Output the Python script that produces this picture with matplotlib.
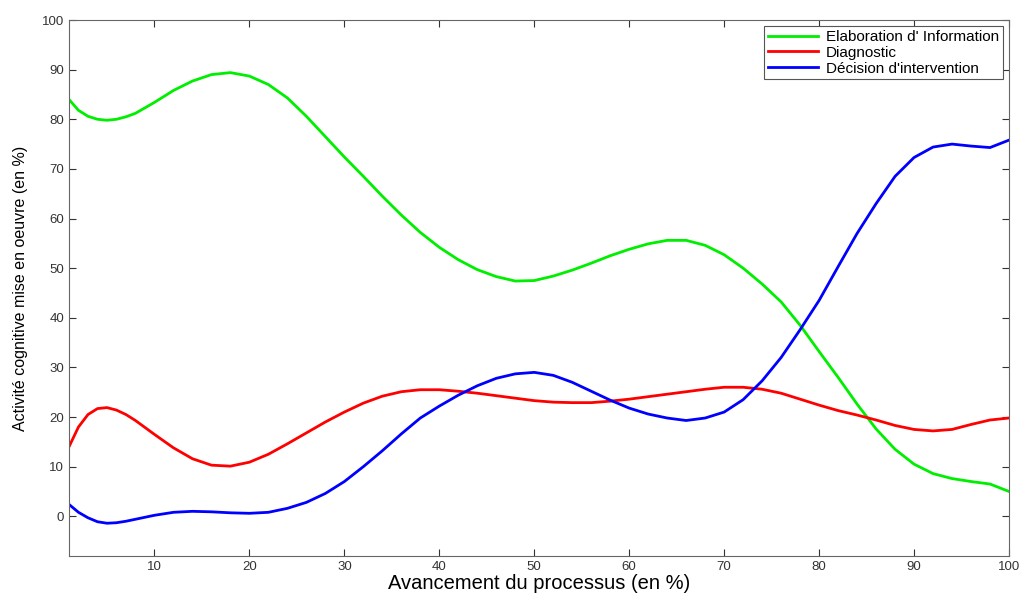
import matplotlib.pyplot as plt
import numpy as np

plt.rcParams['font.family'] = ['Liberation Sans', 'DejaVu Sans']

x = [1, 2, 3, 4, 5, 6, 7, 8, 9, 10, 12, 14, 16, 18, 20, 22, 24, 26, 28, 30,
     32, 34, 36, 38, 40, 42, 44, 46, 48, 50, 52, 54, 56, 58, 60, 62, 64, 66,
     68, 70, 72, 74, 76, 78, 80, 82, 84, 86, 88, 90, 92, 94, 96, 98, 100]
elaboration = [84.0, 81.8, 80.6, 80.0, 79.8, 80.0, 80.5, 81.2, 82.3, 83.4,
               85.8, 87.7, 89.0, 89.4, 88.7, 87.0, 84.3, 80.6, 76.5, 72.4,
               68.5, 64.5, 60.7, 57.2, 54.2, 51.7, 49.7, 48.3, 47.4, 47.5,
               48.4, 49.6, 51.0, 52.5, 53.8, 54.9, 55.6, 55.6, 54.6, 52.7,
               50.0, 46.8, 43.2, 38.5, 33.2, 28.0, 22.6, 17.6, 13.5, 10.5,
               8.6, 7.6, 7.0, 6.5, 5.0]
diagnostic = [14.0, 18.0, 20.5, 21.7, 21.9, 21.4, 20.5, 19.3, 17.9, 16.5,
              13.8, 11.6, 10.3, 10.1, 10.9, 12.5, 14.6, 16.8, 19.0, 21.0,
              22.8, 24.2, 25.1, 25.5, 25.5, 25.2, 24.8, 24.3, 23.8, 23.3,
              23.0, 22.9, 22.9, 23.2, 23.6, 24.1, 24.6, 25.1, 25.6, 26.0,
              26.0, 25.6, 24.8, 23.6, 22.4, 21.3, 20.4, 19.4, 18.3, 17.5,
              17.2, 17.5, 18.5, 19.4, 19.8]
decision = [2.4, 0.8, -0.3, -1.1, -1.4, -1.3, -1.0, -0.6, -0.2, 0.2,
            0.8, 1.0, 0.9, 0.7, 0.6, 0.8, 1.6, 2.8, 4.6, 7.0,
            10.0, 13.2, 16.6, 19.8, 22.2, 24.4, 26.3, 27.8, 28.7, 29.0,
            28.4, 27.0, 25.2, 23.4, 21.8, 20.6, 19.8, 19.3, 19.8, 21.0,
            23.5, 27.3, 32.0, 37.6, 43.5, 50.3, 57.0, 63.0, 68.5, 72.3,
            74.4, 75.0, 74.6, 74.3, 75.8]
labels = ["Elaboration d' Information", "Diagnostic", "Décision d'intervention"]

fig = plt.figure(figsize=(10.19, 5.94), dpi=100)
ax = fig.add_axes([0.0677, 0.064, 0.9225, 0.9023])
ax.plot(x, elaboration, color='#00ee00', lw=2, label=labels[0])
ax.plot(x, diagnostic, color='#ff0000', lw=2, label=labels[1])
ax.plot(x, decision, color='#0000ff', lw=2, label=labels[2])

ax.set_xlim(1, 100)
ax.set_ylim(-8, 100)
ax.set_xticks(np.arange(10, 101, 10))
ax.set_yticks(np.arange(0, 101, 10))
ax.tick_params(direction='in', top=True, right=True, labelsize=9.5,
               colors='#333333', length=5)
for s in ax.spines.values():
    s.set_color('#666666')
ax.set_xlabel('Avancement du processus (en %)', fontsize=14.5, labelpad=1)
ax.set_ylabel('Activité cognitive mise en oeuvre (en %)', fontsize=11.5, labelpad=10)

leg = ax.legend(loc='upper right', fontsize=11, fancybox=False, framealpha=1,
                edgecolor='#555555', handlelength=3.3, handletextpad=0.5,
                borderpad=0.25, labelspacing=0.12, borderaxespad=0.4)
leg.get_frame().set_linewidth(0.8)

fig.savefig('out.png', dpi=100)
